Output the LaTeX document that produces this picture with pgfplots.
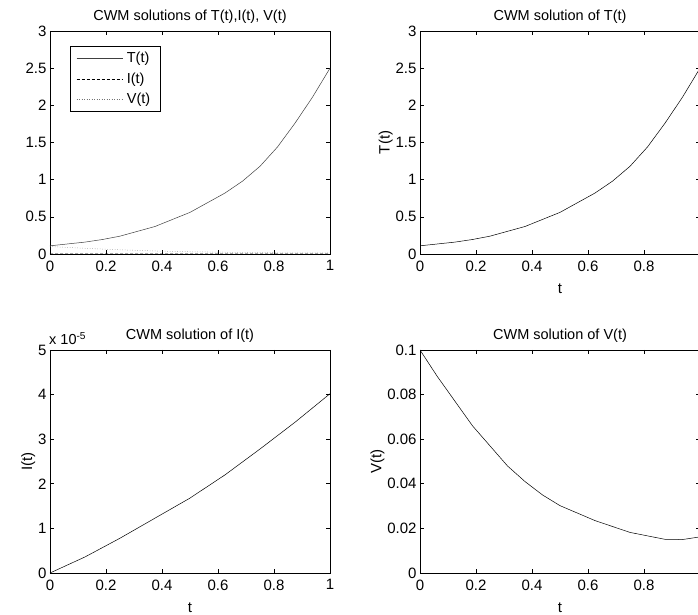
\documentclass[border=0pt]{standalone}
\usepackage{fontspec}
\setmainfont{Liberation Sans}
\usepackage{pgfplots}
\pgfplotsset{compat=1.18}
\usepackage{pgfplotstable}

\pgfplotstableread{
t T
0 0.11
0.125 0.16
0.1875 0.195
0.25 0.24
0.375 0.37
0.5 0.56
0.625 0.82
0.6875 0.98
0.75 1.18
0.8125 1.44
0.875 1.76
0.9375 2.11
1 2.5
}\Tdata

\pgfplotstableread{
t I
0 0
0.125 0.36e-5
0.25 0.78e-5
0.375 1.23e-5
0.5 1.68e-5
0.625 2.2e-5
0.75 2.78e-5
0.875 3.38e-5
1 4.02e-5
}\Idata

\pgfplotstableread{
t V
0 0.1
0.0625 0.088
0.125 0.077
0.1875 0.066
0.25 0.057
0.3125 0.048
0.375 0.041
0.4375 0.035
0.5 0.0302
0.625 0.0235
0.75 0.0182
0.875 0.0151
0.9375 0.0150
1 0.0162
}\Vdata

\pgfplotsset{
  ml/.style={
    scale only axis, width=280pt, height=223pt,
    anchor=south west,
    xmin=0, xmax=1,
    xtick={0,0.2,0.4,0.6,0.8,1},
    xticklabels={0,0.2,0.4,0.6,0.8,1},
    tick align=inside,
    major tick length=4pt,
    minor tick num=0,
    axis line style={line width=0.9pt},
    every tick/.style={black, line width=0.6pt},
    tick label style={font=\fontsize{15}{17}\selectfont},
    label style={font=\fontsize{15}{17}\selectfont},
    title style={font=\fontsize{14.5}{16}\selectfont, yshift=-2pt},
    /pgf/number format/assume math mode=true,
    scaled y ticks=false, scaled x ticks=false,
    xticklabel style={yshift=-3pt},
    xlabel style={yshift=-6pt},
    ylabel style={yshift=-4pt},
    every axis plot/.append style={line width=0.5pt, black},
  },
  ytick scale label code/.code={x 10\textsuperscript{#1}},
}

\begin{document}
\begin{tikzpicture}
% top left
\begin{axis}[ml, at={(50pt,361pt)},
  ymin=0, ymax=3, ytick={0,0.5,1,1.5,2,2.5,3},
  yticklabels={0,0.5,1,1.5,2,2.5,3},
  title={CWM solutions of T(t),I(t), V(t)},
  legend style={at={(rel axis cs:0.071,0.933)}, anchor=north west,
    draw=black, line width=0.9pt, font=\fontsize{14.5}{16}\selectfont,
    inner xsep=6pt, inner ysep=4pt, row sep=4.5pt,
    nodes={inner xsep=4pt}},
  legend cell align=left,
  legend image code/.code={\draw[#1, line width=0.5pt] (0pt,0pt) -- (46pt,0pt);},
]
\addplot[black!75] table[x=t,y=T] {\Tdata};
\addlegendentry{T(t)}
\addplot[black, densely dashed] table[x=t,y=I] {\Idata};
\addlegendentry{I(t)}
\addplot[black!55, dotted] table[x=t,y=V] {\Vdata};
\addlegendentry{V(t)}
\end{axis}
% top right
\begin{axis}[ml, at={(420pt,361pt)},
  ymin=0, ymax=3, ytick={0,0.5,1,1.5,2,2.5,3},
  yticklabels={0,0.5,1,1.5,2,2.5,3},
  xticklabels={0,0.2,0.4,0.6,0.8,},
  title={CWM solution of T(t)},
  xlabel={t}, ylabel={T(t)},
]
\addplot[black] table[x=t,y=T] {\Tdata};
\end{axis}
% bottom left
\begin{axis}[ml, at={(50pt,42pt)},
  ymin=0, ymax=5e-5, ytick={0,1e-5,2e-5,3e-5,4e-5,5e-5},
  scaled y ticks=base 10:5,
  every y tick scale label/.style={at={(rel axis cs:0,1)}, anchor=south west, inner sep=0pt, yshift=5pt, xshift=-1pt, font=\fontsize{14.5}{16}\selectfont},
  title={CWM solution of I(t)},
  xlabel={t}, ylabel={I(t)},
]
\addplot[black] table[x=t,y=I] {\Idata};
\end{axis}
% bottom right
\begin{axis}[ml, at={(420pt,42pt)},
  ymin=0, ymax=0.1, ytick={0,0.02,0.04,0.06,0.08,0.1},
  yticklabels={0,0.02,0.04,0.06,0.08,0.1},
  xticklabels={0,0.2,0.4,0.6,0.8,},
  title={CWM solution of V(t)},
  xlabel={t}, ylabel={V(t)},
]
\addplot[black] table[x=t,y=V] {\Vdata};
\end{axis}
\pgfresetboundingbox
\path[use as bounding box] (0pt,0pt) rectangle (698pt,615pt);
\end{tikzpicture}
\end{document}
